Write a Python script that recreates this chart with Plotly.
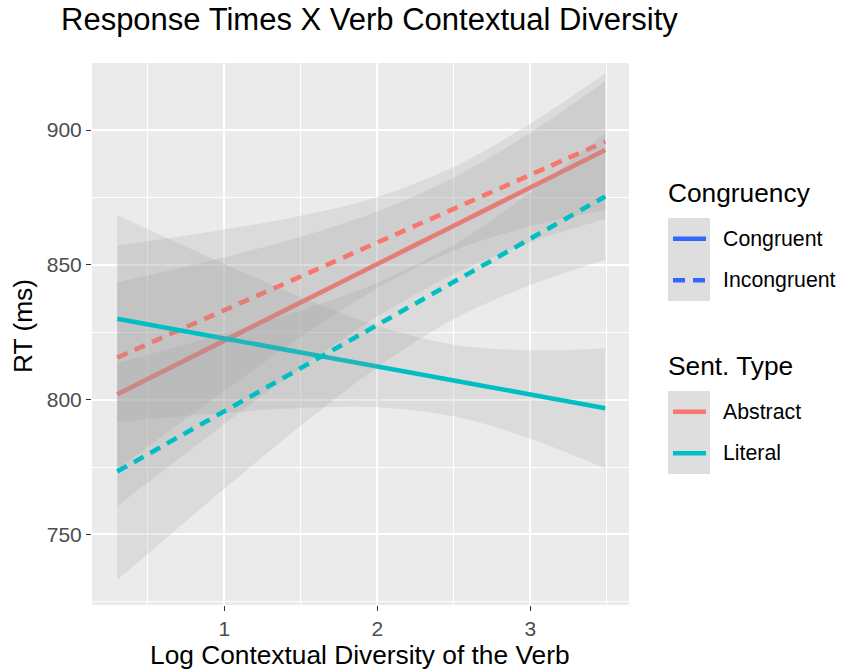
import plotly.graph_objects as go

# ---------------- data ----------------
x_grid = [0.30, 1.0, 1.5, 2.0, 2.5, 3.0, 3.49]

# Abstract / Congruent
ac_fit   = [802.0, 821.9, 836.1, 850.3, 864.5, 878.7, 892.6]
ac_upper = [843.5, 852.8, 860.4, 869.8, 882.4, 899.0, 918.2]
ac_lower = [760.5, 791.0, 811.8, 830.8, 846.6, 858.4, 867.0]
# Abstract / Incongruent
ai_fit   = [815.6, 833.2, 845.7, 858.3, 870.8, 883.4, 895.7]
ai_upper = [857.1, 863.1, 868.2, 875.2, 886.3, 902.4, 921.1]
ai_lower = [774.1, 803.3, 823.2, 841.4, 855.3, 864.4, 870.3]
# Literal / Congruent
lc_fit   = [830.0, 822.7, 817.5, 812.3, 807.1, 801.9, 796.8]
lc_upper = [868.4, 850.3, 838.1, 827.4, 820.4, 818.3, 819.1]
lc_lower = [791.6, 795.1, 796.9, 797.2, 793.8, 785.5, 774.5]
# Literal / Incongruent
li_fit   = [773.3, 795.7, 811.7, 827.7, 843.7, 859.7, 875.4]
li_upper = [813.5, 824.5, 833.1, 843.4, 857.5, 876.9, 898.9]
li_lower = [733.1, 766.9, 790.3, 812.0, 829.9, 842.5, 851.9]

x_ticks = [1, 2, 3]
y_ticks = [750, 800, 850, 900]

congruency_levels = ["Congruent", "Incongruent"]
sent_type_levels = ["Abstract", "Literal"]

# ---------------- styling ----------------
FONT = "Liberation Sans, Arial, sans-serif"
COL = {"Abstract": "#F8766D", "Literal": "#00BFC4"}
DASH = {"Congruent": "solid", "Incongruent": "11px,8px"}
BAND = "rgba(153,153,153,0.2)"
LW = 4.6

groups = [
    ("Abstract", "Congruent", ac_fit, ac_upper, ac_lower),
    ("Abstract", "Incongruent", ai_fit, ai_upper, ai_lower),
    ("Literal", "Congruent", lc_fit, lc_upper, lc_lower),
    ("Literal", "Incongruent", li_fit, li_upper, li_lower),
]

fig = go.Figure()
for stype, cong, fit, up, lo in groups:
    fig.add_trace(go.Scatter(x=x_grid, y=lo, mode="lines",
                             line=dict(width=0, shape="spline", color=BAND),
                             hoverinfo="skip", showlegend=False))
    fig.add_trace(go.Scatter(x=x_grid, y=up, mode="lines", fill="tonexty",
                             fillcolor=BAND,
                             line=dict(width=0, shape="spline", color=BAND),
                             hoverinfo="skip", showlegend=False))
    fig.add_trace(go.Scatter(x=x_grid, y=fit, mode="lines",
                             line=dict(color=COL[stype], width=LW, dash=DASH[cong],
                                       shape="spline"),
                             name=f"{stype} / {cong}", showlegend=False))

# ---------------- layout geometry ----------------
W, H = 841, 672
L, R, T, B = 92, 212, 63, 67
PW, PH = W - L - R, H - T - B


def px2x(px):
    return (px - L) / PW


def py2y(py):
    return (H - B - py) / PH


fig.update_layout(
    width=W, height=H,
    margin=dict(l=L, r=R, t=T, b=B),
    paper_bgcolor="white", plot_bgcolor="#EBEBEB",
    font=dict(family=FONT, color="#000000"),
    showlegend=False,
    title=dict(text="Response Times X Verb Contextual Diversity",
               x=61 / W, xanchor="left", xref="container",
               y=1 - 19 / H, yanchor="middle", yref="container",
               font=dict(size=31, color="#000000", family=FONT)),
)

fig.update_xaxes(range=[0.135, 3.645], tickvals=x_ticks,
                 ticktext=[str(v) for v in x_ticks],
                 showgrid=True, gridcolor="white", gridwidth=2,
                 minor=dict(dtick=0.5, tick0=0, showgrid=True, gridcolor="white",
                            gridwidth=1),
                 zeroline=False, showline=False,
                 ticks="outside", ticklen=5, tickwidth=1.2, tickcolor="#333333",
                 tickfont=dict(size=21, color="#4D4D4D", family=FONT))
fig.update_yaxes(range=[723.8, 924.9], tickvals=y_ticks,
                 ticktext=[str(v) for v in y_ticks],
                 showgrid=True, gridcolor="white", gridwidth=2,
                 minor=dict(dtick=25, tick0=0, showgrid=True, gridcolor="white",
                            gridwidth=1),
                 zeroline=False, showline=False,
                 ticks="outside", ticklen=5, tickwidth=1.2, tickcolor="#333333",
                 tickfont=dict(size=21, color="#4D4D4D", family=FONT))

annotations = [
    dict(text="Log Contextual Diversity of the Verb", x=px2x(360), y=py2y(655),
         xref="paper", yref="paper", showarrow=False, xanchor="center",
         yanchor="middle", font=dict(size=26.3, color="#000000", family=FONT)),
    dict(text="RT (ms)", x=px2x(23), y=py2y(326), xref="paper", yref="paper",
         showarrow=False, textangle=-90, xanchor="center", yanchor="middle",
         font=dict(size=26.3, color="#000000", family=FONT)),
]
shapes = []

# ---------------- manual legend (ggplot style) ----------------
def legend_block(title, title_y, box_top, labels, colors, dashes):
    annotations.append(dict(text=title, x=px2x(666), y=py2y(title_y),
                            xref="paper", yref="paper", showarrow=False,
                            xanchor="left", yanchor="middle",
                            font=dict(size=26.3, color="#000000", family=FONT)))
    key_h = 41.5
    shapes.append(dict(type="rect", xref="paper", yref="paper",
                       x0=px2x(668), x1=px2x(710),
                       y0=py2y(box_top), y1=py2y(box_top + key_h * len(labels)),
                       fillcolor="#DEDEDE", line=dict(width=0), layer="above"))
    for i, (lab, c, d) in enumerate(zip(labels, colors, dashes)):
        yc = box_top + key_h * (i + 0.5)
        shapes.append(dict(type="line", xref="paper", yref="paper",
                           x0=px2x(673), x1=px2x(706), y0=py2y(yc), y1=py2y(yc),
                           line=dict(color=c, width=LW, dash=d), layer="above"))
        annotations.append(dict(text=lab, x=px2x(721), y=py2y(yc),
                                xref="paper", yref="paper", showarrow=False,
                                xanchor="left", yanchor="middle",
                                font=dict(size=21.3, color="#000000", family=FONT)))


legend_block("Congruency", 193, 218, congruency_levels,
             ["#3366FF", "#3366FF"], ["solid", "12px,8px"])
legend_block("Sent. Type", 366, 391, sent_type_levels,
             [COL["Abstract"], COL["Literal"]], ["solid", "solid"])

fig.update_layout(annotations=annotations, shapes=shapes)

fig.write_html("out.html")
